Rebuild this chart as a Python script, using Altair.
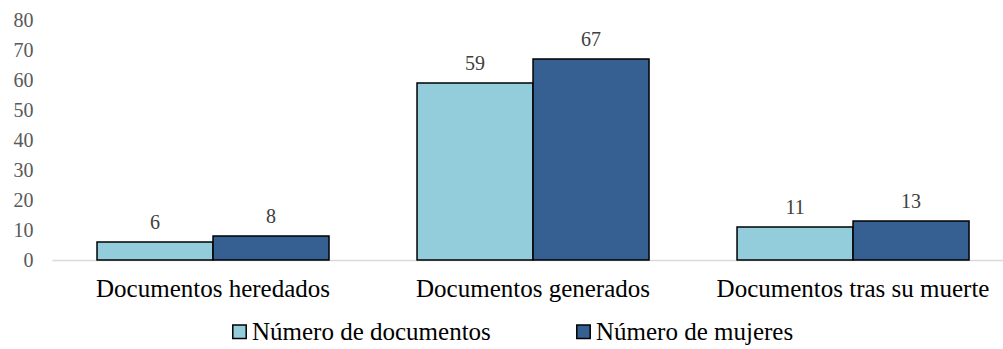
import altair as alt
import pandas as pd

categories = ["Documentos heredados", "Documentos generados", "Documentos tras su muerte"]
series = ["Número de documentos", "Número de mujeres"]
docs = [6, 59, 11]
mujeres = [8, 67, 13]

bar_colors = ["#93CDDC", "#365F92"]
FONT = "Liberation Serif, Times New Roman, serif"

rows = []
for c, d, m in zip(categories, docs, mujeres):
    rows.append({"category": c, "series": series[0], "value": d})
    rows.append({"category": c, "series": series[1], "value": m})
df = pd.DataFrame(rows)

x_enc = alt.X(
    "category:N",
    sort=categories,
    scale=alt.Scale(paddingInner=0.275, paddingOuter=0.1234, align=0.57),
    axis=alt.Axis(
        title=None, labelAngle=0, ticks=False, domainColor="#D9D9D9",
        domainWidth=1.5, labelFont=FONT, labelFontSize=25, labelColor="#000000",
        labelPadding=16, labelLimit=400,
    ),
)
xo_enc = alt.XOffset("series:N", sort=series)
y_enc = alt.Y(
    "value:Q",
    scale=alt.Scale(domain=[0, 80], nice=False),
    axis=alt.Axis(
        title=None, values=list(range(0, 81, 10)), grid=False, domain=False,
        ticks=False, labelFont=FONT, labelFontSize=20, labelColor="#595959",
        labelPadding=19,
    ),
)

bars = alt.Chart(df).mark_bar(stroke="black", strokeWidth=1.5).encode(
    x=x_enc,
    xOffset=xo_enc,
    y=y_enc,
    color=alt.Color(
        "series:N", sort=series,
        scale=alt.Scale(domain=series, range=bar_colors),
        legend=alt.Legend(
            title=None, orient="none", direction="horizontal",
            legendX=175, legendY=299,
            symbolType="square", symbolSize=180, symbolOpacity=1,
            symbolStrokeColor="black", symbolStrokeWidth=1.5,
            labelFont=FONT, labelFontSize=25, labelColor="#000000",
            labelOffset=0, columnPadding=80, labelLimit=400,
        ),
    ),
)

labels = alt.Chart(df).mark_text(
    dy=-13, baseline="alphabetic", fontSize=20, font=FONT, color="#404040"
).encode(x=x_enc, xOffset=xo_enc, y=y_enc, text=alt.Text("value:Q"))

chart = (
    alt.layer(bars, labels)
    .properties(
        width=951, height=240,
        autosize=alt.AutoSizeParams(type="none"),
        padding={"left": 52, "top": 20, "right": 0, "bottom": 89},
        background="white",
    )
    .configure_view(stroke=None)
)

chart.save("out.html", embed_options={"renderer": "svg", "actions": False})
